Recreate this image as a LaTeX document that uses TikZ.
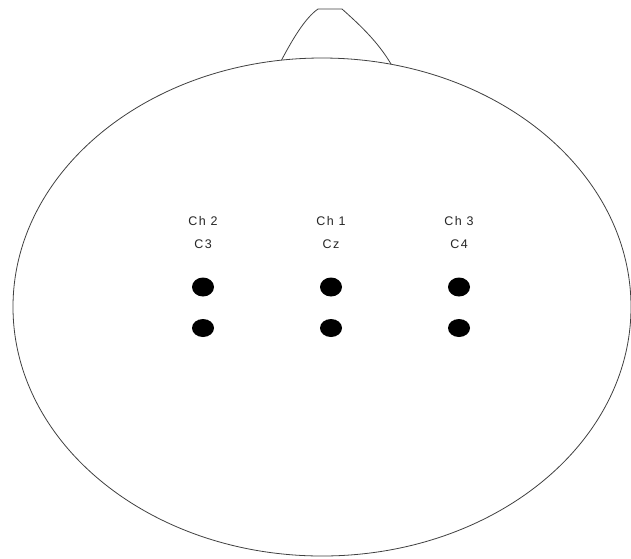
\documentclass[tikz,border=0pt]{standalone}
\usepackage{fontspec}
\setmainfont{Liberation Sans}
\usetikzlibrary{shapes.geometric}
\begin{document}
\begin{tikzpicture}[x=1pt,y=-1pt,
  outline/.style={draw=black!75, line width=0.8pt},
  electrode/.style={ellipse, fill=black, draw=none, minimum width=22pt, minimum height=19pt, inner sep=0pt},
  lbl/.style={font=\fontsize{12.5}{14}\selectfont\addfontfeature{LetterSpace=12}, text=black!85, inner sep=0pt, anchor=base}]
\useasboundingbox (0,0) rectangle (631,558);
% nose
\draw[outline] (280,63) .. controls (292,40) and (305,18) .. (318,9) -- (342,9) .. controls (360,25) and (378,42) .. (391,64);
% head
\draw[outline, fill=white] (322,307) ellipse [x radius=309, y radius=249];
% labels
\node[lbl] (ch2) at (203,225) {Ch 2};
\node[lbl] (ch1) at (331,225) {Ch 1};
\node[lbl] (ch3) at (459,225) {Ch 3};
\node[lbl] (c3) at (203,248) {C3};
\node[lbl] (cz) at (331,248) {Cz};
\node[lbl] (c4) at (459,248) {C4};
% electrodes
\node[electrode] (e1) at (203,287) {};
\node[electrode] (e2) at (331,287) {};
\node[electrode] (e3) at (459,287) {};
\node[electrode, minimum height=18pt] (e4) at (203,328) {};
\node[electrode, minimum height=18pt] (e5) at (331,328) {};
\node[electrode, minimum height=18pt] (e6) at (459,328) {};
\end{tikzpicture}
\end{document}
